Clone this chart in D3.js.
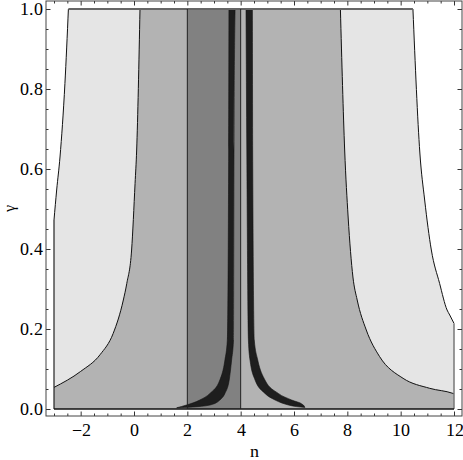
<!DOCTYPE html>
<html>
<head>
<meta charset="utf-8">
<script src="https://cdn.jsdelivr.net/npm/d3@7"></script>
<style>
  @font-face { font-family: "PlotSerif"; src: local("Liberation Serif"), local("LiberationSerif"), local("LiberationSerif-Regular"); }
  body { margin: 0; background: white; }
</style>
</head>
<body>
<div class="chart"></div>
<script>
// boundaries, as [n, gamma]
const lightLeft = [[-3, 0.4725], [-2.9, 0.5475], [-2.775, 0.63], [-2.59, 0.814], [-2.46, 1.0]];
const lightRight = [[10.46, 1.0], [10.72, 0.64], [10.9, 0.5225], [11.15, 0.3975], [11.46, 0.314],
                    [11.74, 0.2475], [11.84, 0.235], [12, 0.214]];
const midLeft = [[-3, 0.054], [-2.0, 0.094], [-1.27, 0.136], [-0.78, 0.189], [-0.4, 0.2725],
                 [-0.27, 0.314], [-0.09, 0.3975], [0.04, 0.564], [0.1, 0.6475], [0.225, 1.0]];
const midRight = [[7.74, 1.0], [7.9, 0.6475], [8.03, 0.48], [8.21, 0.33], [8.37, 0.2725],
                  [8.71, 0.1975], [9.21, 0.131], [10.09, 0.0767], [11.09, 0.0517], [11.96, 0.039], [12, 0.038]];
const strip = [2, 4];
const bandLeftOuter = [[3.56, 1.0], [3.55, 0.6475], [3.5, 0.1725], [3.41, 0.1225], [3.22, 0.0725],
                       [2.85, 0.039], [2.47, 0.0225], [1.97, 0.01], [1.6, 0.003]];
const bandLeftInner = [[1.6, 0.003], [2.2, 0.005], [2.85, 0.01], [3.22, 0.0225], [3.41, 0.039],
                       [3.57, 0.0725], [3.66, 0.1225], [3.73, 0.1725], [3.75, 0.6475], [3.79, 1.0]];
const bandRightInner = [[4.2, 1.0], [4.23, 0.6475], [4.29, 0.1725], [4.35, 0.1225], [4.54, 0.0725],
                        [4.91, 0.039], [5.29, 0.0225], [5.79, 0.01], [6.41, 0.004]];
const bandRightOuter = [[6.41, 0.004], [6.35, 0.01], [5.91, 0.0225], [5.41, 0.039], [4.91, 0.0725],
                        [4.64, 0.1225], [4.51, 0.1725], [4.45, 0.6475], [4.44, 1.0]];
const nMin = -3, nMax = 12, gMin = 0, gMax = 1;
const xTicks = [-2, 0, 2, 4, 6, 8, 10, 12];
const yTicks = [0, 0.2, 0.4, 0.6, 0.8, 1.0];

const width = 463, height = 460;
const frame = {left: 46, right: 462, top: 1, bottom: 416};
const serif = "PlotSerif, 'Liberation Serif', 'Times New Roman', serif";

const svg = d3.select(".chart").append("svg")
    .attr("width", width)
    .attr("height", height);

const x = d3.scaleLinear().domain([-3.3, 12.3]).range([frame.left, frame.right]);
const y = d3.scaleLinear().domain([-0.0175, 1.02]).range([frame.bottom, frame.top]);

const smooth = d3.line().x(d => x(d[0])).y(d => y(d[1])).curve(d3.curveMonotoneX);
const straight = d3.line().x(d => x(d[0])).y(d => y(d[1]));

// glue several pieces into one closed outline
function outline(pieces) {
    return pieces.map((p, i) => {
        const s = (p.smooth ? smooth : straight)(p.pts);
        return i === 0 ? s : "L" + s.slice(1);
    }).join("") + "Z";
}

// light region
svg.append("path")
    .attr("fill", "#e5e5e5")
    .attr("d", outline([
        {pts: [[nMin, gMin], lightLeft[0]]},
        {pts: lightLeft, smooth: true},
        {pts: [lightLeft[lightLeft.length - 1], lightRight[0]]},
        {pts: lightRight, smooth: true},
        {pts: [[nMax, lightRight[lightRight.length - 1][1]], [nMax, gMin]]}
    ]));

// medium region
svg.append("path")
    .attr("fill", "#b3b3b3")
    .attr("d", outline([
        {pts: [[nMin, gMin], midLeft[0]]},
        {pts: midLeft, smooth: true},
        {pts: [midLeft[midLeft.length - 1], midRight[0]]},
        {pts: midRight, smooth: true},
        {pts: [[nMax, gMin]]}
    ]));

// dark strip
svg.append("rect")
    .attr("x", x(strip[0]))
    .attr("y", y(gMax))
    .attr("width", x(strip[1]) - x(strip[0]))
    .attr("height", y(gMin) - y(gMax))
    .attr("fill", "#818181");

// the two black bands
[[bandLeftOuter, bandLeftInner], [bandRightInner, bandRightOuter]].forEach(([a, b]) => {
    svg.append("path")
        .attr("fill", "#1e1e1e")
        .attr("stroke", "#111")
        .attr("stroke-width", 0.6)
        .attr("d", outline([{pts: a, smooth: true}, {pts: b, smooth: true}]));
});

// boundary lines
const edges = svg.append("g").attr("fill", "none");
[lightLeft, lightRight, midLeft, midRight].forEach(c => {
    edges.append("path").attr("d", smooth(c)).attr("stroke", "#111").attr("stroke-width", 1);
});
edges.append("path")
    .attr("d", straight([[nMin, gMin], [nMin, lightLeft[0][1]]]))
    .attr("stroke", "#222").attr("stroke-width", 1.2);
edges.append("path")
    .attr("d", straight([[nMax, gMin], [nMax, lightRight[lightRight.length - 1][1]]]))
    .attr("stroke", "#777").attr("stroke-width", 1.5);
edges.append("path")
    .attr("d", straight([lightLeft[lightLeft.length - 1], lightRight[0]]))
    .attr("stroke", "#666").attr("stroke-width", 2);
edges.append("path")
    .attr("d", straight([[nMin, gMin], [nMax, gMin]]))
    .attr("stroke", "#111").attr("stroke-width", 1.5);
strip.forEach(s => {
    edges.append("path")
        .attr("d", straight([[s, gMin], [s, gMax]]))
        .attr("stroke", "#222").attr("stroke-width", 1);
});

// frame axes, ticks pointing inwards
const minorX = d3.range(-3, 12.01, 0.5).filter(v => !xTicks.includes(v));
const minorY = d3.range(0, 1.001, 0.05).filter(v => !yTicks.some(t => Math.abs(t - v) < 1e-6));

function frameAxis(axis, tx, ty, major, minor, fmt) {
    const g = svg.append("g").attr("transform", `translate(${tx},${ty})`);
    g.append("g")
        .call(axis.tickValues(major).tickSizeInner(-4.5).tickSizeOuter(0).tickFormat(fmt || ""))
        .call(a => a.select(".domain").remove());
    g.append("g")
        .call(axis.tickValues(minor).tickSizeInner(-2.5).tickFormat(""))
        .call(a => a.select(".domain").remove());
    g.selectAll(".tick line").attr("stroke", "#333");
    g.selectAll("g").attr("font-family", serif).attr("font-size", 18);
    g.selectAll("text").style("font-family", serif).attr("fill", "#000");
    return g;
}

frameAxis(d3.axisBottom(x).tickPadding(7), 0, frame.bottom, xTicks, minorX, d3.format("d"));
frameAxis(d3.axisTop(x), 0, frame.top, xTicks, minorX);
frameAxis(d3.axisLeft(y).tickPadding(3), frame.left, 0, yTicks, minorY, d3.format(".1f"));
frameAxis(d3.axisRight(y), frame.right, 0, yTicks, minorY);

svg.append("rect")
    .attr("x", frame.left)
    .attr("y", frame.top)
    .attr("width", frame.right - frame.left)
    .attr("height", frame.bottom - frame.top)
    .attr("fill", "none")
    .attr("stroke", "#444")
    .attr("stroke-width", 1);

// axis titles
svg.append("text")
    .attr("x", (frame.left + frame.right) / 2)
    .attr("y", 457)
    .attr("text-anchor", "middle")
    .style("font-family", serif)
    .attr("font-size", 18)
    .text("n");

svg.append("text")
    .attr("transform", `translate(15, ${(frame.top + frame.bottom) / 2}) rotate(-90)`)
    .attr("text-anchor", "middle")
    .style("font-family", serif)
    .attr("font-size", 16)
    .text("γ");
</script>
</body>
</html>
